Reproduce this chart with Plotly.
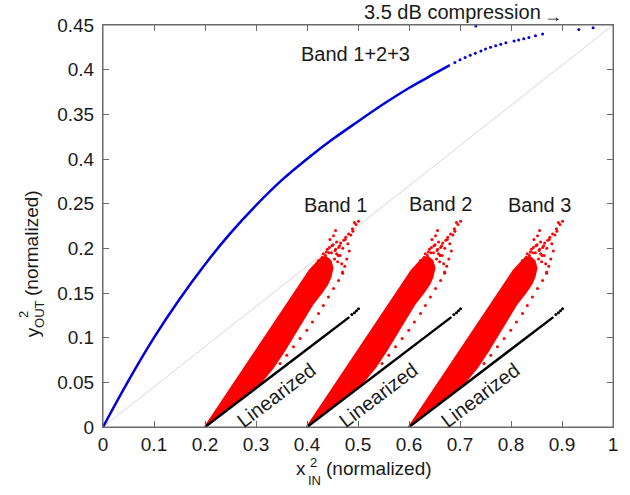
import plotly.graph_objects as go

# ---------------- data ----------------
x_ticks = [0, 0.1, 0.2, 0.3, 0.4, 0.5, 0.6, 0.7, 0.8, 0.9, 1.0]
x_tick_labels = ["0", "0.1", "0.2", "0.3", "0.4", "0.5", "0.6", "0.7", "0.8", "0.9", "1"]
y_ticks = [0, 0.05, 0.10, 0.15, 0.20, 0.25, 0.30, 0.35, 0.40, 0.45]
y_tick_labels = ["0", "0.05", "0.1", "0.15", "0.2", "0.25", "0.4", "0.35", "0.4", "0.45"]

# gray reference diagonal
diag_x = [0, 1]
diag_y = [0, 0.45]

# Band 1+2+3 compression curve (solid part)
comp_x = [0, 0.05, 0.10, 0.15, 0.20, 0.25, 0.30, 0.35, 0.40, 0.45, 0.50, 0.55, 0.60, 0.65, 0.68]
comp_y = [0, 0.052, 0.100, 0.143, 0.182, 0.217, 0.248, 0.276, 0.300, 0.322, 0.342, 0.3615,
          0.3795, 0.3955, 0.405]
# sparse dotted tail
comp_dot_x = [0.69, 0.70, 0.71, 0.72, 0.73, 0.741, 0.75, 0.76, 0.77, 0.78, 0.79,
              0.806, 0.815, 0.825, 0.835, 0.848, 0.862, 0.933, 0.961, 0.731]
comp_dot_y = [0.408, 0.411, 0.4135, 0.416, 0.4185, 0.421, 0.423, 0.425, 0.4267, 0.4284, 0.430,
              0.432, 0.4333, 0.4347, 0.4361, 0.438, 0.440, 0.445, 0.447, 0.449]

# band start positions
band_base = [0.2, 0.4, 0.6]
band_names = ["Band 1", "Band 2", "Band 3"]
band_label_x = [0.456, 0.661, 0.855]
band_label_y = [0.249, 0.250, 0.249]

# dense red cloud outline (offset from band start, y)
cloud_dx = [0, 0.033, 0.063, 0.094, 0.125, 0.157, 0.185, 0.205, 0.218, 0.228,
            0.238, 0.246, 0.25, 0.246, 0.240,
            0.228, 0.210, 0.192, 0.175, 0.156, 0.134, 0.108, 0.085, 0.06, 0.03, 0]
cloud_y = [0, 0.028, 0.054, 0.080, 0.106, 0.134, 0.158, 0.175, 0.183, 0.189,
           0.190, 0.186, 0.178, 0.168, 0.160,
           0.150, 0.137, 0.120, 0.104, 0.086, 0.067, 0.049, 0.039, 0.028, 0.014, 0]

# scattered red outliers (offset from band start, y)
out_dx = [0.262, 0.272, 0.2815, 0.289, 0.296, 0.301, 0.293, 0.276, 0.255, 0.249, 0.265,
          0.268, 0.2697, 0.262, 0.252, 0.242, 0.232, 0.2226, 0.2107, 0.1996, 0.1865,
          0.1735, 0.1603, 0.1472, 0.229, 0.1996, 0.170, 0.144, 0.1177,
          0.245, 0.252, 0.258, 0.264, 0.270, 0.275, 0.280, 0.283, 0.278, 0.274,
          0.270, 0.238, 0.232, 0.240, 0.248, 0.256, 0.261, 0.286, 0.290, 0.256,
          0.236, 0.244, 0.251, 0.258, 0.266, 0.254, 0.243, 0.230, 0.222, 0.260]
out_y = [0.201, 0.209, 0.216, 0.222, 0.2267, 0.2304, 0.229, 0.2125, 0.1976, 0.203, 0.192,
         0.1828, 0.1734, 0.164, 0.155, 0.1455, 0.136, 0.127, 0.1176, 0.1083, 0.099,
         0.0897, 0.0804, 0.0711, 0.160, 0.1343, 0.112, 0.086, 0.0636,
         0.210, 0.214, 0.207, 0.203, 0.200, 0.210, 0.205, 0.197, 0.188, 0.180,
         0.172, 0.196, 0.194, 0.199, 0.195, 0.199, 0.192, 0.215, 0.219, 0.220,
         0.192, 0.201, 0.204, 0.194, 0.206, 0.188, 0.195, 0.190, 0.186, 0.185]

# linearized lines (offset from band start, y)
lin_dx = [0, 0.283]
lin_y = [0, 0.123]
lin_dot_dx = [0.288, 0.293, 0.297, 0.301]
lin_dot_y = [0.126, 0.128, 0.130, 0.1325]
lin_label_dx = 0.14
lin_label_y = 0.036

FONT = "Liberation Sans, Arial, sans-serif"
TXT = "#1a1a1a"
AX = "#6a6a6a"
BLUE = "#0000dd"

fig = go.Figure()

fig.add_trace(go.Scatter(x=diag_x, y=diag_y, mode="lines",
                         line=dict(color="#d8d8d8", width=1), hoverinfo="skip"))

for b in band_base:
    fig.add_trace(go.Scatter(x=[b + d for d in cloud_dx], y=cloud_y, mode="lines",
                             fill="toself", fillcolor="#ff0000",
                             line=dict(color="#ff0000", width=2), hoverinfo="skip"))
    fig.add_trace(go.Scatter(x=[b + d for d in out_dx], y=out_y, mode="markers",
                             marker=dict(color="#ff0000", size=3), hoverinfo="skip"))
    fig.add_trace(go.Scatter(x=[b + d for d in lin_dx], y=lin_y, mode="lines",
                             line=dict(color="black", width=2.5), hoverinfo="skip"))
    fig.add_trace(go.Scatter(x=[b + d for d in lin_dot_dx], y=lin_dot_y, mode="markers",
                             marker=dict(color="black", size=3), hoverinfo="skip"))

fig.add_trace(go.Scatter(x=comp_x, y=comp_y, mode="lines", line_shape="spline",
                         line=dict(color=BLUE, width=2.5), hoverinfo="skip"))
fig.add_trace(go.Scatter(x=comp_dot_x, y=comp_dot_y, mode="markers",
                         marker=dict(color=BLUE, size=3), hoverinfo="skip",
                         cliponaxis=False))


def txt(x, y, text, size=19, ref="data", angle=0, xa="center", ya="middle"):
    r = ("x", "y") if ref == "data" else ("paper", "paper")
    return dict(xref=r[0], yref=r[1], x=x, y=y, text=text, showarrow=False,
                textangle=angle, xanchor=xa, yanchor=ya,
                font=dict(size=size, color=TXT, family=FONT))


ann = [txt(0.495, 0.417, "Band 1+2+3", size=20)]
for name, lx, ly in zip(band_names, band_label_x, band_label_y):
    ann.append(txt(lx, ly, name, size=20))
for b in band_base:
    ann.append(txt(b + lin_label_dx, lin_label_y, "Linearized", size=20, angle=-37))
# top note (paper coordinates, outside plot area)
ann.append(txt(0.508, 1.032, "3.5 dB compression", size=20, ref="paper", xa="left"))
ann.append(txt(0.882, 1.022, "\u2192", size=18, ref="paper"))
# x axis title: x with stacked 2 / IN
ann.append(txt(0.388, -0.104, "x", ref="paper"))
ann.append(txt(0.412, -0.088, "2", size=13, ref="paper"))
ann.append(txt(0.415, -0.133, "IN", size=13, ref="paper"))
ann.append(txt(0.433, -0.104, "(normalized)", ref="paper", xa="left"))
# y axis title: y with stacked 2 / OUT (rotated)
ann.append(txt(-0.139, 0.236, "y", ref="paper", angle=-90))
ann.append(txt(-0.156, 0.280, "2", size=13, ref="paper", angle=-90))
ann.append(txt(-0.125, 0.282, "OUT", size=13, ref="paper", angle=-90))
ann.append(txt(-0.139, 0.458, "(normalized)", ref="paper", angle=-90))

axis_common = dict(showgrid=False, zeroline=False, showline=True, linecolor=AX,
                   linewidth=1, mirror="allticks", ticks="inside", ticklen=6,
                   tickcolor=AX, tickwidth=1, tickfont=dict(size=19, color=TXT, family=FONT))

fig.update_layout(
    width=630, height=495,
    margin=dict(l=103, r=17, t=25, b=68),
    paper_bgcolor="white", plot_bgcolor="white",
    showlegend=False,
    xaxis=dict(range=[0, 1], tickvals=x_ticks, ticktext=x_tick_labels, **axis_common),
    yaxis=dict(range=[0, 0.45], tickvals=y_ticks, ticktext=y_tick_labels,
               ticklabelstandoff=4, **axis_common),
    annotations=ann,
    shapes=[dict(type="rect", xref="paper", yref="paper", x0=0, y0=0, x1=1, y1=1,
                 line=dict(color=AX, width=1), layer="above")],
)

fig.write_html("out.html", config={"displayModeBar": False},
               post_script="document.body.style.margin='0';")
